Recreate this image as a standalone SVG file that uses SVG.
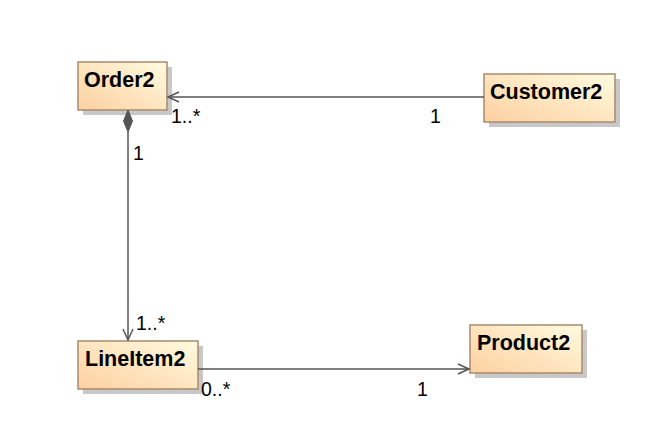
<svg xmlns="http://www.w3.org/2000/svg" width="668" height="426" viewBox="0 0 668 426">
<defs>
<linearGradient id="g" x1="0" y1="1" x2="1" y2="0">
<stop offset="0" stop-color="#fdd0a0"/>
<stop offset="1" stop-color="#fffbe0"/>
</linearGradient>
<marker id="arr" markerWidth="14" markerHeight="14" refX="12" refY="6" orient="auto" markerUnits="userSpaceOnUse">
<path d="M1,1 L12,6 L1,11" fill="none" stroke="#555" stroke-width="1.5"/>
</marker>
</defs>
<style>
.shadow{fill:#c8c8c8}
.box{fill:url(#g);stroke:#a88a6c;stroke-width:1.5}
.name{font-family:"Liberation Sans",Arial,sans-serif;font-weight:bold;font-size:21.5px;fill:#000}
.lbl{font-family:"Liberation Sans",Arial,sans-serif;font-size:19.5px;fill:#000}
.edge{stroke:#555;stroke-width:1.5;fill:none}
</style>
<rect width="668" height="426" fill="#fff"/>
<g id="Order2">
<rect class="shadow" x="83" y="67" width="89" height="48"/>
<rect class="box" x="78" y="62" width="89" height="48"/>
<text class="name" x="84" y="87">Order2</text>
</g>
<g id="Customer2">
<rect class="shadow" x="489" y="79" width="131" height="48"/>
<rect class="box" x="484" y="74" width="131" height="48"/>
<text class="name" x="490" y="99">Customer2</text>
</g>
<g id="LineItem2">
<rect class="shadow" x="83" y="346" width="120" height="48"/>
<rect class="box" x="78" y="341" width="120" height="48"/>
<text class="name" x="85" y="366">LineItem2</text>
</g>
<g id="Product2">
<rect class="shadow" x="475" y="330" width="112" height="48"/>
<rect class="box" x="470" y="325" width="112" height="48"/>
<text class="name" x="477" y="350">Product2</text>
</g>
<g id="connectors">
<line class="edge" x1="484" y1="97" x2="168" y2="97" marker-end="url(#arr)"/>
<text class="lbl" x="171" y="123">1..*</text>
<text class="lbl" x="430" y="123">1</text>
<line class="edge" x1="128" y1="132" x2="128" y2="340" marker-end="url(#arr)"/>
<path d="M128,110 L132.5,121 L128,132 L123.5,121 Z" fill="#555" stroke="#555" stroke-width="1"/>
<text class="lbl" x="133" y="160">1</text>
<text class="lbl" x="136" y="330">1..*</text>
<line class="edge" x1="198" y1="369" x2="469" y2="369" marker-end="url(#arr)"/>
<text class="lbl" x="201" y="396">0..*</text>
<text class="lbl" x="417" y="396">1</text>
</g>
</svg>
